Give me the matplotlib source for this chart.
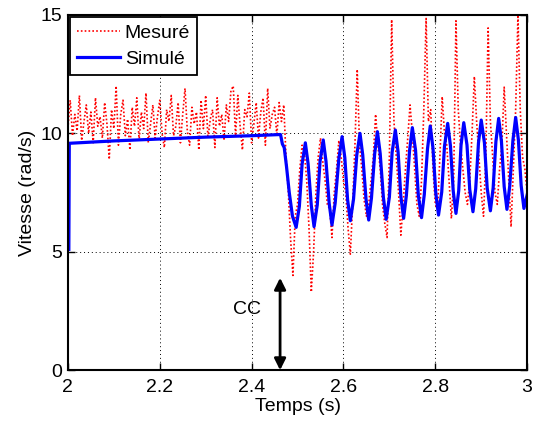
import numpy as np
import matplotlib
matplotlib.use("Agg")
import matplotlib.pyplot as plt

plt.rcParams['font.family'] = ['Liberation Sans', 'DejaVu Sans']

# mesure : echantillons toutes les 5 ms a partir de t = 2 s
mes_avant = [
    10.2, 11.4, 9.9, 10.8, 10.1, 11.6, 9.7, 10.5, 11.2, 10.0,
    10.9, 9.6, 11.5, 10.3, 10.7, 9.8, 11.3, 10.4, 8.9, 11.0,
    10.2, 12.0, 9.5, 10.8, 11.4, 9.9, 10.6, 9.3, 11.1, 10.3,
    11.5, 9.7, 10.9, 10.2, 11.7, 9.6, 10.4, 11.2, 9.8, 10.7,
    11.4, 10.0, 9.4, 11.0, 10.5, 11.6, 9.9, 10.3, 11.3, 9.6,
    10.8, 11.9, 10.1, 9.5, 11.1, 10.4, 10.9, 9.3, 11.4, 10.2,
    11.6, 9.8, 10.6, 11.0, 9.4, 11.5, 10.3, 10.8, 9.7, 11.2,
    10.5, 11.8, 12.0, 9.9, 11.6, 10.3, 9.3, 11.0, 10.7, 11.7,
    9.6, 10.4, 11.3, 9.8, 10.9, 11.5, 9.5, 11.9, 10.2, 10.8,
    11.1, 9.9, 11.3,
]
mes_apres = [
    10.5, 11.2, 9.0, 7.5, 5.5, 4.0, 6.5, 7.0, 8.5, 9.5,
    9.2, 8.0, 6.0, 3.3, 5.0, 7.5, 9.0, 9.8, 8.8, 8.0,
    7.0, 6.8, 5.6, 7.5, 8.5, 9.7, 9.0, 8.0, 7.5, 6.0,
    4.9, 7.0, 9.5, 12.7, 9.5, 8.5, 7.2, 6.5, 7.0, 8.0,
    9.0, 10.8, 9.5, 8.5, 7.0, 6.2, 5.6, 9.0, 14.8, 10.5,
    9.0, 7.5, 5.7, 7.0, 8.5, 9.8, 11.2, 10.0, 8.5, 7.0,
    6.5, 8.0, 11.0, 14.85, 10.5, 11.0, 8.5, 7.0, 6.8, 9.0,
    11.55, 10.0, 9.5, 8.0, 6.4, 8.0, 14.75, 11.0, 9.5, 8.5,
    7.5, 7.0, 8.0, 10.0, 12.4, 10.5, 9.0, 7.5, 6.5, 9.0,
    14.45, 10.5, 9.0, 7.5, 7.0, 8.5, 9.5, 11.95, 10.0, 8.0,
    6.05, 8.5, 11.0, 15.0, 11.0, 9.0, 8.5, 7.5,
]
mesure = mes_avant + mes_apres
t_mes = np.round(2.0 + 0.005 * np.arange(len(mesure)), 3)

# simulation : points
t_sim = [2.002, 2.003, 2.1, 2.2, 2.3, 2.4, 2.463, 2.467, 2.471, 2.476, 2.482, 2.489,
         2.497, 2.504, 2.510, 2.517, 2.523, 2.530, 2.536, 2.543, 2.549, 2.556,
         2.562, 2.569, 2.575, 2.582, 2.590, 2.597, 2.603, 2.609, 2.615, 2.622,
         2.629, 2.636, 2.642, 2.649, 2.655, 2.661, 2.668, 2.674, 2.680, 2.687,
         2.693, 2.700, 2.706, 2.713, 2.719, 2.725, 2.731, 2.737, 2.744, 2.750,
         2.757, 2.763, 2.770, 2.776, 2.783, 2.789, 2.795, 2.801, 2.807, 2.814,
         2.820, 2.827, 2.833, 2.839, 2.845, 2.851, 2.856, 2.862, 2.869, 2.875,
         2.882, 2.888, 2.894, 2.900, 2.907, 2.913, 2.920, 2.926, 2.932, 2.938,
         2.944, 2.950, 2.956, 2.962, 2.969, 2.975, 2.981, 2.987, 2.993, 3.0]
simule = [5.1, 9.58, 9.68, 9.76, 9.84, 9.9, 9.95, 9.55, 9.4, 8.6, 7.5, 6.5,
          6.03, 6.92, 8.71, 9.60, 8.72, 6.95, 6.06, 6.98, 8.81, 9.72,
          8.82, 7.03, 6.13, 7.06, 8.93, 9.86, 8.97, 7.20, 6.31, 7.23,
          9.08, 10.00, 9.09, 7.25, 6.34, 7.27, 9.14, 10.07, 9.15, 7.29,
          6.37, 7.31, 9.20, 10.14, 9.21, 7.34, 6.41, 7.37, 9.28, 10.24,
          9.29, 7.39, 6.44, 7.41, 9.34, 10.31, 9.37, 7.49, 6.55, 7.52,
          9.45, 10.42, 9.47, 7.57, 6.62, 7.58, 9.49, 10.45, 9.51, 7.63,
          6.69, 7.66, 9.59, 10.56, 9.60, 7.69, 6.73, 7.70, 9.66, 10.63,
          9.67, 7.75, 6.79, 7.76, 9.70, 10.67, 9.71, 7.79, 6.83, 7.4]

xticks = [2, 2.2, 2.4, 2.6, 2.8, 3]
yticks = [0, 5, 10, 15]

fig = plt.figure(figsize=(5.39, 4.26), dpi=100)
ax = fig.add_axes([0.126, 0.131, 0.852, 0.834])

ax.plot(t_mes, mesure, color='red', linestyle=(0, (1, 1.3)), linewidth=1.2, label='Mesuré')
ax.plot(t_sim, simule, color='blue', linewidth=2.3, label='Simulé')

ax.set_xlim(2, 3)
ax.set_ylim(0, 15)
ax.set_xticks(xticks)
ax.set_xticklabels(['2', '2.2', '2.4', '2.6', '2.8', '3'])
ax.set_yticks(yticks)
ax.grid(True, color='black', linestyle=(0, (1, 3)), linewidth=0.7)
ax.tick_params(direction='in', top=True, right=True, length=5, width=1, labelsize=14)
ax.tick_params(axis='x', pad=6)
ax.tick_params(axis='y', pad=4)
for s in ax.spines.values():
    s.set_linewidth(1.5)

ax.set_xlabel('Temps (s)', fontsize=14, labelpad=2)
ax.set_ylabel('Vitesse (rad/s)', fontsize=14, labelpad=3)

ax.annotate('', xy=(2.462, 0.0), xytext=(2.462, 3.9),
            arrowprops=dict(arrowstyle='<|-|>', color='black', lw=2,
                            mutation_scale=17, shrinkA=0, shrinkB=0))
ax.text(2.39, 2.55, 'CC', fontsize=14, ha='center', va='center')

leg = ax.legend(loc='upper left', fontsize=14, handlelength=2.2, fancybox=False,
                borderpad=0.35, labelspacing=0.45, borderaxespad=0.12, handletextpad=0.25)
leg.get_frame().set_edgecolor('black')
leg.get_frame().set_linewidth(1.3)
leg.get_frame().set_alpha(1)

fig.savefig('out.png', dpi=100)
